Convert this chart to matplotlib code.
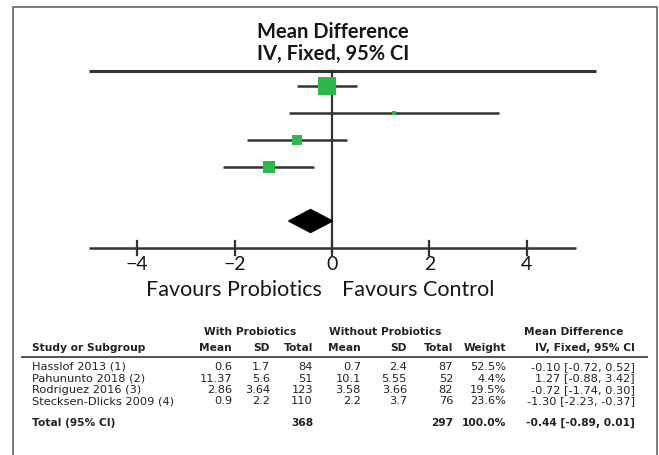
import numpy as np
import matplotlib.pyplot as plt
from matplotlib.patches import Polygon, Rectangle

# study data
studies = ['Hasslof 2013 (1)', 'Pahununto 2018 (2)', 'Rodriguez 2016 (3)', 'Stecksen-Dlicks 2009 (4)']
mean_pro = ['0.6', '11.37', '2.86', '0.9']
sd_pro = ['1.7', '5.6', '3.64', '2.2']
n_pro = [84, 51, 123, 110]
mean_ctl = ['0.7', '10.1', '3.58', '2.2']
sd_ctl = ['2.4', '5.55', '3.66', '3.7']
n_ctl = [87, 52, 82, 76]
weight = [52.5, 4.4, 19.5, 23.6]
md = [-0.10, 1.27, -0.72, -1.30]
ci_lo = [-0.72, -0.88, -1.74, -2.23]
ci_hi = [0.52, 3.42, 0.30, -0.37]
total_md = -0.44
total_lo = -0.89
total_hi = 0.01
x_ticks = [-4, -2, 0, 2, 4]

W, H = 659, 456
X0, UNIT = 332, 48.7     # pixel of 0 and pixels per unit
ROW0, ROWH = 87, 27      # pixel of first row, row height

def fx(x):
    return x / W

def fy(y):
    return 1 - y / H

def row(ypx):
    return (ypx - ROW0) / ROWH

fig = plt.figure(figsize=(W / 100, H / 100), dpi=100)
fig.patch.set_facecolor('white')
ax = fig.add_axes([0, 0, 1, 1])
ax.axis('off')
ax.set_xlim(-X0 / UNIT, (W - X0) / UNIT)
ax.set_ylim(row(H), row(0))

line_col = '#333333'
green = '#2fb84a'
txt_col = '#161616'

# frame
fig.patches.append(Rectangle((fx(13), fy(470)), fx(657) - fx(13), fy(8) - fy(470),
                             transform=fig.transFigure, fill=False,
                             edgecolor='#666666', linewidth=1.2))

# title
fig.text(fx(333), fy(32), 'Mean Difference', ha='center', va='center',
         family='Lato', fontweight='bold', fontsize=14.5, color=txt_col)
fig.text(fx(333), fy(54), 'IV, Fixed, 95% CI', ha='center', va='center',
         family='Lato', fontweight='bold', fontsize=14.5, color=txt_col)

# top rule, zero line, axis
ax.plot([-5, (596 - X0) / UNIT], [row(72), row(72)], color=line_col, lw=2.2, solid_capstyle='butt')
ax.plot([0, 0], [row(72), row(253)], color=line_col, lw=1.6)
ax.plot([-5, 5], [row(249), row(249)], color=line_col, lw=1.8, solid_capstyle='butt')
for t in x_ticks:
    ax.plot([t, t], [row(242), row(256)], color=line_col, lw=1.6)
    ax.text(t, row(265), str(t).replace('-', '\u2212'), ha='center', va='center',
            family='Lato', fontsize=14, color=txt_col)

ax.text(-0.2, row(290), 'Favours Probiotics', ha='right', va='center',
        family='Lato', fontsize=15.5, color=txt_col)
ax.text(0.2, row(290), 'Favours Control', ha='left', va='center',
        family='Lato', fontsize=15.5, color=txt_col)

# studies
for i in range(len(studies)):
    ax.plot([ci_lo[i], ci_hi[i]], [i, i], color=line_col, lw=1.8, solid_capstyle='butt', zorder=2)
    size_px = 2.35 * np.sqrt(weight[i])
    ax.plot(md[i], i, marker='s', markersize=size_px * 0.72, color=green,
            markeredgewidth=0, zorder=3)

# pooled diamond
yd = len(studies) + 1
hd = 11.5 / ROWH
ax.add_patch(Polygon([[total_lo, yd], [total_md, yd - hd], [total_hi, yd], [total_md, yd + hd]],
                     closed=True, facecolor='black', edgecolor='black', zorder=3))

# table
tf = 'DejaVu Sans'
tc = '#222222'

def cell(x, y, s, ha='right', bold=False):
    fig.text(fx(x), fy(y), s, ha=ha, va='center', family=tf,
             fontsize=7.7 if bold else 8.2, color=tc,
             fontweight='bold' if bold else 'normal')

cell(250, 332, 'With Probiotics', ha='center', bold=True)
cell(385, 332, 'Without Probiotics', ha='center', bold=True)
cell(574, 332, 'Mean Difference', ha='center', bold=True)
cell(32, 348, 'Study or Subgroup', ha='left', bold=True)
for x, s in [(232, 'Mean'), (270, 'SD'), (313, 'Total'), (361, 'Mean'), (407, 'SD'),
             (453, 'Total'), (506, 'Weight'), (635, 'IV, Fixed, 95% CI')]:
    cell(x, 348, s, bold=True)
fig.add_artist(plt.Line2D([fx(22), fx(647)], [fy(358), fy(358)], color='#444444', lw=1.3))

row_y = [367, 378.5, 390, 401.5]
for i in range(len(studies)):
    y = row_y[i]
    cell(32, y, studies[i], ha='left')
    cell(232, y, mean_pro[i])
    cell(270, y, sd_pro[i])
    cell(313, y, str(n_pro[i]))
    cell(361, y, mean_ctl[i])
    cell(407, y, sd_ctl[i])
    cell(453, y, str(n_ctl[i]))
    cell(506, y, '%.1f%%' % weight[i])
    cell(635, y, '%.2f [%.2f, %.2f]' % (md[i], ci_lo[i], ci_hi[i]))

cell(32, 423, 'Total (95% CI)', ha='left', bold=True)
cell(313, 423, str(sum(n_pro)), bold=True)
cell(453, 423, str(sum(n_ctl)), bold=True)
cell(506, 423, '%.1f%%' % sum(weight), bold=True)
cell(635, 423, '%.2f [%.2f, %.2f]' % (total_md, total_lo, total_hi), bold=True)

fig.savefig('out.png', dpi=100)
